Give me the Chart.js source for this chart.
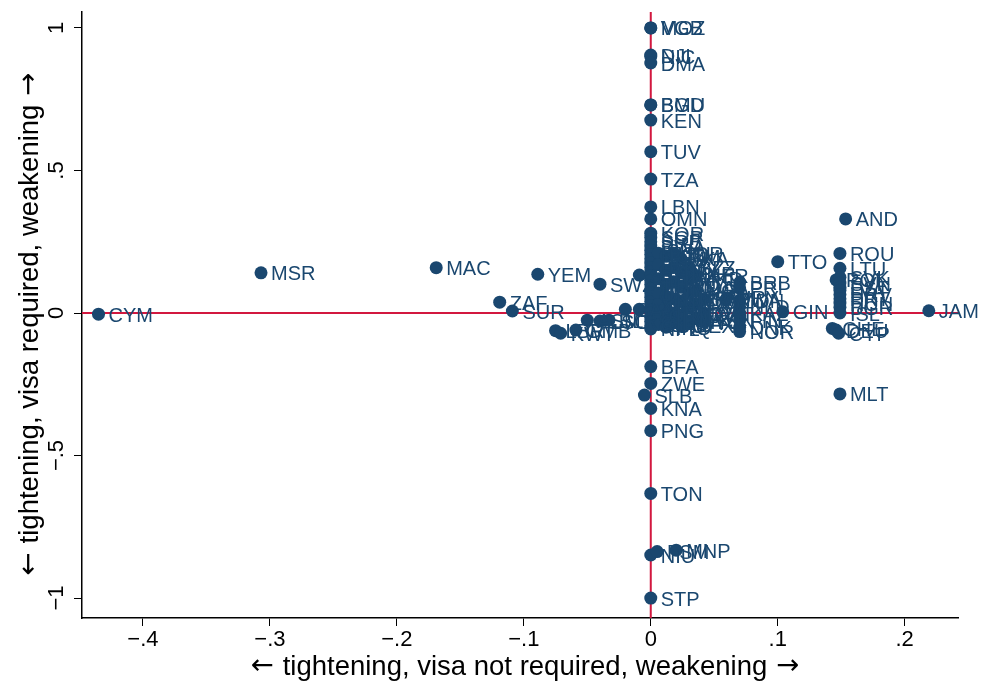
<!DOCTYPE html>
<html>
<head>
<meta charset="utf-8">
<script src="https://cdn.jsdelivr.net/npm/chart.js@4/dist/chart.umd.min.js"></script>
<style>
  html, body { margin: 0; background: #fff; }
  #wrap { width: 981px; height: 681px; }
</style>
</head>
<body>
<div id="wrap"><canvas id="c"></canvas></div>
<script>
// ---- data ----
const codes = [
  'CYM','MSR','MAC','YEM','SWZ','ZAF','SUR','LBR','KWT','GMB','ASM','LSO','BLR','GEO','ARM','SYC','SLB','NPL',
  'MOZ','VGB','DJI','NIC','DMA','BGD','BMU','KEN','TUV','TZA','LBN','OMN',
  'KOR','SGP','SRB','BWA','ISR','MUS','NAM','PAK','PHL','RUS','SAU','SEN','THA','TUR','UGA','UKR','VNM','ZMB','AGO','ALB','BEN','CMR','COG',
  'BFA','ZWE','KNA','PNG','TON','NIU','FSM','MNP','STP',
  'ECU','EGY','ETH','FJI','GAB','GHA','GRD',
  'GTM','GUY','HND','HTI','IND','IRN','IRQ',
  'JOR','KGZ','KHM','KIR','LAO','LCA',
  'LKA','MAR','MDA','MDG','MDV','MEX',
  'BLZ','MKD','MNG','MWI','MYS',
  'NER','NGA','PAN','PER',
  'PRY','QAT','TUN','RWA',
  'BRB','PRI','URY','IDN','NLD','KAZ','GIN','FIN','DNK','NOR','TTO',
  'ROU','LTU','POL','SVK','SVN','EST','LVA','HRV','PRT','HUN','BGR','ISL','CHE','DEU','CYP',
  'AND','MLT','JAM'
];
const xVals = [
  -0.435,-0.307,-0.169,-0.089,-0.040,-0.119,-0.109,-0.075,-0.071,-0.059,-0.050,-0.040,-0.033,-0.020,-0.009,-0.009,-0.005,0,
  0,0,0,0,0,0,0,0,0,0,0,0,
  0,0,0,0,0,0,0,0,0,0,0,0,0,0,0,0,0,0,0,0,0,0,0,
  0,0,0,0,0,0,0.005,0.020,0,
  0.006,0.006,0.006,0.006,0.006,0.006,0.006,
  0.012,0.012,0.012,0.012,0.012,0.012,0.012,
  0.018,0.018,0.018,0.018,0.018,0.018,
  0.024,0.024,0.024,0.024,0.024,0.024,
  0.030,0.030,0.030,0.030,0.030,
  0.036,0.036,0.036,0.036,
  0.042,0.042,0.042,0.059,
  0.070,0.070,0.060,0.070,0.070,0.070,0.104,0.070,0.070,0.070,0.100,
  0.149,0.149,0.146,0.149,0.149,0.149,0.149,0.149,0.149,0.149,0.149,0.149,0.143,0.146,0.148,
  0.1535,0.149,0.219
];
const yVals = [
  -0.004,0.141,0.159,0.136,0.101,0.038,0.007,-0.062,-0.071,-0.060,-0.025,-0.028,-0.025,0.013,0.013,0.133,-0.288,-0.056,
  1.0,1.0,0.905,0.9,0.877,0.73,0.73,0.677,0.566,0.47,0.372,0.33,
  0.28,0.265,0.25,0.235,0.22,0.205,0.19,0.175,0.16,0.145,0.13,0.115,0.10,0.085,0.07,0.055,0.04,0.025,0.01,0.0,-0.015,-0.03,-0.045,
  -0.188,-0.247,-0.335,-0.413,-0.633,-0.849,-0.837,-0.832,-1.0,
  0.21,0.17,0.12,0.07,0.03,-0.01,-0.04,
  0.20,0.15,0.10,0.06,0.02,-0.02,-0.05,
  0.21,0.16,0.11,0.05,0.0,-0.035,
  0.19,0.14,0.09,0.04,-0.01,-0.045,
  0.16,0.12,0.07,0.02,-0.03,
  0.13,0.08,0.03,-0.02,
  0.05,0.0,-0.03,0.046,
  0.107,0.088,0.053,0.045,0.022,0.0,0.004,-0.025,-0.05,-0.065,0.18,
  0.209,0.157,0.116,0.125,0.105,0.09,0.08,0.065,0.05,0.035,0.02,0.0,-0.054,-0.06,-0.071,
  0.33,-0.284,0.008
];

const xTickValues = [-0.4, -0.3, -0.2, -0.1, 0, 0.1, 0.2];
const xTickLabels = ['\u2212.4', '\u2212.3', '\u2212.2', '\u2212.1', '0', '.1', '.2'];
const yTickValues = [-1, -0.5, 0, 0.5, 1];
const yTickLabels = ['\u22121', '\u2212.5', '0', '.5', '1'];
const xTitle = 'tightening, visa not required, weakening';
const yTitle = 'tightening, visa required, weakening';

const NAVY = '#1a476f';
const RED  = '#d2183f';
const FONT = "'Liberation Sans', Arial, sans-serif";
const ARROW_FONT = "'DejaVu Sans', sans-serif";

// title with wide arrows on both ends, centred on (0,0) of the current transform
function drawTitle(ctx, text, size) {
  const parts = [
    { t: '\u2190 ', f: `${size}px ${ARROW_FONT}` },
    { t: text, f: `${size}px ${FONT}` },
    { t: ' \u2192', f: `${size}px ${ARROW_FONT}` },
  ];
  let total = 0;
  parts.forEach(p => { ctx.font = p.f; p.w = ctx.measureText(p.t).width; total += p.w; });
  let x = -total / 2;
  ctx.textAlign = 'left';
  parts.forEach(p => { ctx.font = p.f; ctx.fillText(p.t, x, 0); x += p.w; });
}

// red reference lines at zero, marker labels, rotated y ticks and both titles
const overlay = {
  id: 'overlay',
  beforeDatasetsDraw(chart) {
    const { ctx, chartArea: a, scales: { x, y } } = chart;
    const x0 = x.getPixelForValue(0), y0 = y.getPixelForValue(0);
    ctx.save();
    ctx.strokeStyle = RED;
    ctx.lineWidth = 2;
    ctx.beginPath();
    ctx.moveTo(a.left, y0); ctx.lineTo(a.right, y0);
    ctx.moveTo(x0, a.top);  ctx.lineTo(x0, a.bottom);
    ctx.stroke();
    ctx.restore();
  },
  afterDatasetsDraw(chart) {
    const { ctx } = chart;
    const pts = chart.getDatasetMeta(0).data;
    ctx.save();
    ctx.font = `20px ${FONT}`;
    ctx.fillStyle = NAVY;
    ctx.textBaseline = 'middle';
    ctx.textAlign = 'left';
    pts.forEach((p, i) => ctx.fillText(codes[i], p.x + 10, p.y + 2));
    ctx.restore();
  },
  afterDraw(chart) {
    const { ctx, scales: { y } } = chart;
    ctx.save();
    ctx.fillStyle = '#000';
    ctx.textAlign = 'center';
    ctx.textBaseline = 'middle';
    ctx.font = `22px ${FONT}`;
    yTickValues.forEach((v, i) => {
      ctx.save();
      ctx.translate(57, y.getPixelForValue(v));
      ctx.rotate(-Math.PI / 2);
      ctx.fillText(yTickLabels[i], 0, 0);
      ctx.restore();
    });
    ctx.save();
    ctx.translate(30, 324);
    ctx.rotate(-Math.PI / 2);
    drawTitle(ctx, yTitle, 27.5);
    ctx.restore();
    ctx.save();
    ctx.translate(525, 667);
    drawTitle(ctx, xTitle, 27.5);
    ctx.restore();
    ctx.restore();
  }
};

new Chart(document.getElementById('c'), {
  type: 'scatter',
  data: {
    datasets: [{
      data: xVals.map((v, i) => ({ x: v, y: yVals[i] })),
      backgroundColor: NAVY,
      borderWidth: 0,
      pointRadius: 6.5,
      pointHoverRadius: 6.5,
    }],
  },
  options: {
    responsive: true,
    maintainAspectRatio: false,
    animation: false,
    layout: { padding: { top: 12, right: 23, left: 0, bottom: 0 } },
    plugins: { legend: { display: false }, tooltip: { enabled: false } },
    scales: {
      x: {
        min: -0.448, max: 0.242,
        afterBuildTicks: s => { s.ticks = xTickValues.map(v => ({ value: v })); },
        afterFit: s => { s.height = 63; },
        ticks: {
          color: '#000', font: { family: FONT, size: 22 }, padding: 1,
          autoSkip: false, maxRotation: 0,
          callback: (v, i) => xTickLabels[i],
        },
        grid: { drawOnChartArea: false, drawTicks: true, tickLength: 8, color: '#000' },
        border: { color: '#000', width: 1.5 },
      },
      y: {
        min: -1.07, max: 1.056,
        afterBuildTicks: s => { s.ticks = yTickValues.map(v => ({ value: v })); },
        afterFit: s => { s.width = 82; },
        ticks: { display: false },
        grid: { drawOnChartArea: false, drawTicks: true, tickLength: 8, color: '#000' },
        border: { color: '#000', width: 1.5 },
      },
    },
  },
  plugins: [overlay],
});
</script>
</body>
</html>
